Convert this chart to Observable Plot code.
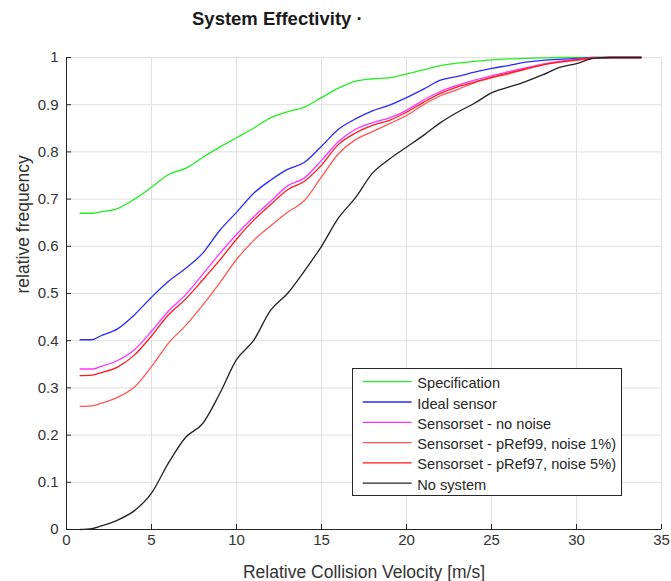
<!DOCTYPE html>
<html>
<head>
<meta charset="utf-8">
<script src="https://cdn.jsdelivr.net/npm/d3@7"></script>
<script src="https://cdn.jsdelivr.net/npm/@observablehq/plot@0.6"></script>
<style>
  body { margin: 0; background: #fff; }
  #wrap { position: relative; width: 671px; height: 581px; background: #fff; font-family: "Liberation Sans", Arial, sans-serif; }
  #title { height: 40px; box-sizing: border-box; padding-top: 10px; padding-left: 192px; font-weight: bold; font-size: 18.5px; line-height: 18.5px; color: #1a1a1a; }
  #legend { position: absolute; left: 352px; top: 368px; }
</style>
</head>
<body>
<div id="wrap">
  <div id="title">System Effectivity ·</div>
  <div id="chart"></div>
  <div id="legend"></div>
</div>
<script>
// Relative collision velocity [m/s]
const velocity = [0.8, 1.5, 2, 3, 4, 5, 6, 7, 8, 9, 10, 11, 12, 13, 14, 15, 16, 17, 18, 19, 20, 21, 22, 23, 24, 25, 26, 27, 28, 29, 30, 31, 32, 33, 33.8];

const specification = [0.670, 0.670, 0.673, 0.680, 0.700, 0.725, 0.752, 0.765, 0.788, 0.810, 0.830, 0.850, 0.872, 0.885, 0.895, 0.915, 0.935, 0.950, 0.955, 0.957, 0.965, 0.974, 0.983, 0.988, 0.992, 0.995, 0.997, 0.998, 0.999, 1, 1, 1, 1, 1, 1];
const idealSensor = [0.402, 0.402, 0.410, 0.425, 0.455, 0.492, 0.526, 0.553, 0.585, 0.633, 0.672, 0.712, 0.740, 0.763, 0.778, 0.812, 0.848, 0.870, 0.887, 0.899, 0.915, 0.933, 0.952, 0.960, 0.969, 0.977, 0.983, 0.990, 0.994, 0.996, 0.998, 1, 1, 1, 1];
const noNoise = [0.340, 0.340, 0.345, 0.358, 0.381, 0.420, 0.463, 0.497, 0.540, 0.584, 0.625, 0.662, 0.695, 0.728, 0.745, 0.782, 0.822, 0.848, 0.862, 0.872, 0.888, 0.910, 0.928, 0.941, 0.952, 0.961, 0.970, 0.978, 0.986, 0.992, 0.996, 0.999, 1, 1, 1];
const pRef99 = [0.261, 0.262, 0.267, 0.280, 0.302, 0.345, 0.395, 0.432, 0.475, 0.522, 0.572, 0.612, 0.643, 0.672, 0.697, 0.747, 0.796, 0.826, 0.843, 0.860, 0.877, 0.900, 0.919, 0.932, 0.947, 0.957, 0.965, 0.975, 0.985, 0.990, 0.994, 0.998, 1, 1, 1];
const pRef97 = [0.326, 0.327, 0.332, 0.344, 0.370, 0.410, 0.455, 0.488, 0.528, 0.570, 0.615, 0.655, 0.688, 0.720, 0.738, 0.772, 0.816, 0.840, 0.856, 0.867, 0.884, 0.905, 0.924, 0.938, 0.948, 0.958, 0.967, 0.976, 0.984, 0.990, 0.995, 0.999, 1, 1, 1];
const noSystem = [0, 0.002, 0.007, 0.020, 0.040, 0.077, 0.141, 0.195, 0.224, 0.287, 0.360, 0.400, 0.464, 0.500, 0.548, 0.600, 0.660, 0.703, 0.755, 0.785, 0.810, 0.835, 0.862, 0.884, 0.903, 0.925, 0.937, 0.949, 0.963, 0.979, 0.987, 0.998, 1, 1, 1];

const seriesNames = ["Specification", "Ideal sensor", "Sensorset - no noise", "Sensorset - pRef99, noise 1%)", "Sensorset - pRef97, noise 5%)", "No system"];
const seriesValues = [specification, idealSensor, noNoise, pRef99, pRef97, noSystem];
const seriesColors = ["#22ee22", "#2a2aff", "#ff33ff", "#ff5555", "#ff1a1a", "#222222"];

const xTicks = [0, 5, 10, 15, 20, 25, 30, 35];
const yTicks = [0, 0.1, 0.2, 0.3, 0.4, 0.5, 0.6, 0.7, 0.8, 0.9, 1];
const xLabel = "Relative Collision Velocity [m/s]";
const yLabel = "relative frequency";

const rows = [];
seriesNames.forEach((name, s) => {
  velocity.forEach((v, i) => rows.push({series: name, v, f: seriesValues[s][i]}));
});

const axisColor = "#262626";
const gridColor = "#e0e0e0";

const chart = Plot.plot({
  width: 671,
  height: 541,
  marginLeft: 66,
  marginRight: 10,
  marginTop: 17,
  marginBottom: 52,
  style: {fontFamily: "'Liberation Sans', Arial, sans-serif", fontSize: "15px", color: "#333", background: "#fff"},
  x: {domain: [0, 35]},
  y: {domain: [0, 1]},
  color: {domain: seriesNames, range: seriesColors},
  marks: [
    Plot.ruleX(xTicks, {stroke: gridColor, strokeWidth: 1}),
    Plot.ruleY(yTicks, {stroke: gridColor, strokeWidth: 1}),
    Plot.tickX(xTicks, {x: d => d, insetTop: 467, stroke: axisColor}),
    Plot.tickY(yTicks, {y: d => d, insetRight: 590, stroke: axisColor}),
    Plot.ruleX([0], {stroke: axisColor}),
    Plot.ruleY([0], {stroke: axisColor}),
    Plot.axisX(xTicks, {tickSize: 0, tickPadding: 5, label: null, fontSize: 15, fill: "#333"}),
    Plot.axisY(yTicks, {tickSize: 0, tickPadding: 8, label: null, fontSize: 15, fill: "#333", tickFormat: d => String(d)}),
    Plot.text([xLabel], {frameAnchor: "bottom", dy: 43, lineAnchor: "middle", fontSize: 17.5, fill: "#333"}),
    Plot.text([yLabel], {frameAnchor: "left", dx: -43, rotate: -90, lineAnchor: "middle", fontSize: 17.5, fill: "#333"}),
    Plot.line(rows, {x: "v", y: "f", z: "series", stroke: "series", strokeWidth: 1.3, curve: "monotone-x"})
  ]
});
document.getElementById("chart").appendChild(chart);

// Legend
const lg = d3.select("#legend").append("svg").attr("width", 271).attr("height", 129)
  .style("font-family", "'Liberation Sans', Arial, sans-serif");
lg.append("rect").attr("x", 0.5).attr("y", 0.5).attr("width", 269).attr("height", 127)
  .attr("fill", "#fff").attr("stroke", axisColor).attr("stroke-width", 1);
seriesNames.forEach((name, i) => {
  const y = 13.7 + i * 20.3;
  lg.append("line").attr("x1", 10.7).attr("x2", 59.7).attr("y1", y).attr("y2", y)
    .attr("stroke", seriesColors[i]).attr("stroke-width", 1.3);
  lg.append("text").attr("x", 65.3).attr("y", y + 6.5).attr("font-size", 14.6)
    .attr("fill", "#262626").text(name);
});
</script>
</body>
</html>
